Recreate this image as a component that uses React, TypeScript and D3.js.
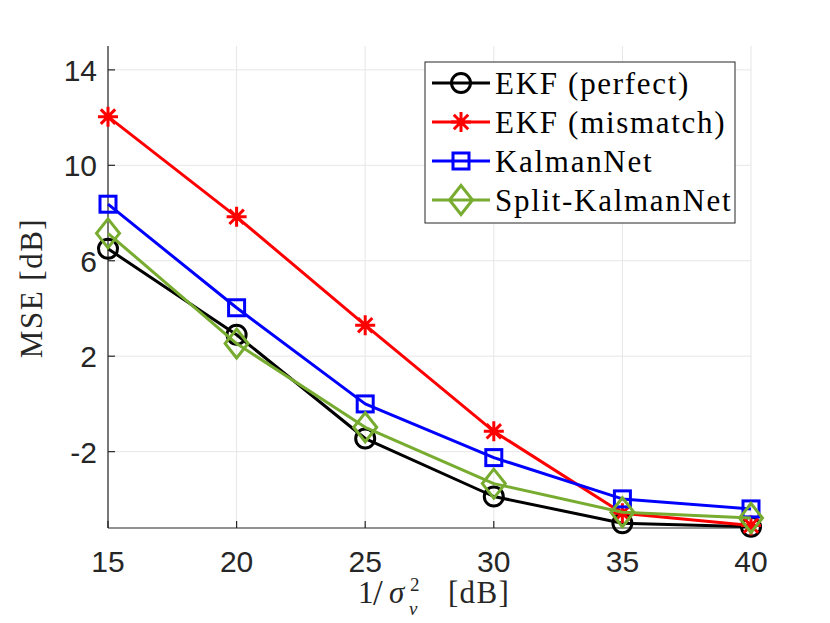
import React, { useEffect, useRef } from 'react';
import * as d3 from 'd3';

// x values: 1/sigma_v^2 [dB]
const snr = [15, 20, 25, 30, 35, 40];
const ekfPerfect = [6.5, 2.9, -1.45, -3.88, -5.0, -5.15];
const ekfMismatch = [12.04, 7.84, 3.3, -1.15, -4.58, -5.1];
const kalmanNet = [8.37, 4.03, 0.0, -2.25, -3.98, -4.4];
const splitKalmanNet = [7.15, 2.53, -0.98, -3.34, -4.54, -4.78];
const xTicks = [15, 20, 25, 30, 35, 40];
const yTicks = [-2, 2, 6, 10, 14];

type Series = { name: string; values: number[]; color: string; marker: string };

const series: Series[] = [
  { name: 'EKF (perfect)', values: ekfPerfect, color: '#000000', marker: 'circle' },
  { name: 'EKF (mismatch)', values: ekfMismatch, color: '#ff0000', marker: 'star' },
  { name: 'KalmanNet', values: kalmanNet, color: '#0000ff', marker: 'square' },
  { name: 'Split-KalmanNet', values: splitKalmanNet, color: '#77ac30', marker: 'diamond' },
];

const W = 830;
const H = 623;

const drawMarker = (g: d3.Selection<SVGGElement, unknown, null, undefined>, type: string, cx: number, cy: number, color: string) => {
  const sw = 3;
  if (type === 'circle') {
    g.append('circle').attr('cx', cx).attr('cy', cy).attr('r', 9.5)
      .attr('fill', 'none').attr('stroke', color).attr('stroke-width', sw);
  } else if (type === 'square') {
    g.append('rect').attr('x', cx - 8).attr('y', cy - 8).attr('width', 16).attr('height', 16)
      .attr('fill', 'none').attr('stroke', color).attr('stroke-width', sw);
  } else if (type === 'diamond') {
    const w = 11.5, h = 14.5;
    g.append('path').attr('d', `M${cx},${cy - h}L${cx + w},${cy}L${cx},${cy + h}L${cx - w},${cy}Z`)
      .attr('fill', 'none').attr('stroke', color).attr('stroke-width', sw).attr('stroke-linejoin', 'miter');
  } else if (type === 'star') {
    const r = 10, d = r * 0.72;
    g.append('path')
      .attr('d', `M${cx},${cy - r}V${cy + r}M${cx - r},${cy}H${cx + r}M${cx - d},${cy - d}L${cx + d},${cy + d}M${cx - d},${cy + d}L${cx + d},${cy - d}`)
      .attr('stroke', color).attr('stroke-width', sw);
  }
};

const App: React.FC = () => {
  const svgRef = useRef<SVGSVGElement | null>(null);

  useEffect(() => {
    if (!svgRef.current) return;
    const svg = d3.select(svgRef.current);
    svg.selectAll('*').remove();

    const left = 108, right = 751, top = 46, bottom = 528;
    const x = d3.scaleLinear().domain([15, 40]).range([left, right]);
    const y = d3.scaleLinear().domain([-5.2, 15]).range([bottom, top]);

    const axisColor = '#262626';
    const gridColor = '#e6e6e6';
    const sans = "'Liberation Sans', Arial, Helvetica, sans-serif";
    const serif = "'Liberation Serif', 'Times New Roman', serif";

    // grid
    const grid = svg.append('g');
    xTicks.forEach(t => {
      grid.append('line').attr('x1', x(t)).attr('x2', x(t)).attr('y1', top).attr('y2', bottom)
        .attr('stroke', gridColor).attr('stroke-width', 1);
    });
    yTicks.forEach(t => {
      grid.append('line').attr('x1', left).attr('x2', right).attr('y1', y(t)).attr('y2', y(t))
        .attr('stroke', gridColor).attr('stroke-width', 1);
    });

    // axes lines
    svg.append('line').attr('x1', left).attr('x2', left).attr('y1', top).attr('y2', bottom)
      .attr('stroke', axisColor).attr('stroke-width', 1.2);
    svg.append('line').attr('x1', left).attr('x2', right).attr('y1', bottom).attr('y2', bottom)
      .attr('stroke', axisColor).attr('stroke-width', 1.2);

    // ticks + labels
    xTicks.forEach(t => {
      svg.append('line').attr('x1', x(t)).attr('x2', x(t)).attr('y1', bottom).attr('y2', bottom - 7)
        .attr('stroke', axisColor).attr('stroke-width', 1.2);
      svg.append('text').attr('x', x(t)).attr('y', bottom + 44).attr('text-anchor', 'middle')
        .attr('font-family', sans).attr('font-size', 30).attr('fill', axisColor).text(t);
    });
    yTicks.forEach(t => {
      svg.append('line').attr('x1', left).attr('x2', left + 7).attr('y1', y(t)).attr('y2', y(t))
        .attr('stroke', axisColor).attr('stroke-width', 1.2);
      svg.append('text').attr('x', left - 11).attr('y', y(t) + 11).attr('text-anchor', 'end')
        .attr('font-family', sans).attr('font-size', 30).attr('fill', axisColor).text(t);
    });

    // series
    series.forEach(s => {
      const pts: [number, number][] = snr.map((v, i) => [x(v), y(s.values[i])]);
      svg.append('path').attr('d', d3.line()(pts)!).attr('fill', 'none')
        .attr('stroke', s.color).attr('stroke-width', 3).attr('stroke-linejoin', 'round');
      const mg = svg.append('g');
      pts.forEach(([px, py]) => drawMarker(mg, s.marker, px, py, s.color));
    });

    // legend
    const lg = svg.append('g');
    lg.append('rect').attr('x', 425).attr('y', 62).attr('width', 310).attr('height', 161)
      .attr('fill', '#ffffff').attr('stroke', axisColor).attr('stroke-width', 1);
    series.forEach((s, i) => {
      const cy = 83 + i * 39;
      lg.append('line').attr('x1', 432).attr('x2', 490).attr('y1', cy).attr('y2', cy)
        .attr('stroke', s.color).attr('stroke-width', 3);
      drawMarker(lg, s.marker, 461, cy, s.color);
      lg.append('text').attr('x', 495).attr('y', cy + 10.5)
        .attr('font-family', serif).attr('font-size', 31).attr('letter-spacing', 1.7)
        .attr('fill', '#000').text(s.name);
    });

    // y label
    svg.append('text')
      .attr('transform', `translate(42, 288) rotate(-90)`)
      .attr('text-anchor', 'middle')
      .attr('font-family', serif).attr('font-size', 31).attr('letter-spacing', 1.5)
      .attr('fill', axisColor).text('MSE [dB]');

    // x label: 1/σ_v^2 [dB]
    const xl = svg.append('g').attr('font-family', serif).attr('fill', axisColor);
    xl.append('text').attr('x', 358).attr('y', 603).attr('font-size', 31).text('1');
    xl.append('text').attr('x', 373).attr('y', 605).attr('font-size', 35).text('/');
    xl.append('text').attr('x', 389).attr('y', 603).attr('font-size', 31).attr('font-style', 'italic').text('σ');
    xl.append('text').attr('x', 410).attr('y', 591).attr('font-size', 19).text('2');
    xl.append('text').attr('x', 409).attr('y', 615).attr('font-size', 19).attr('font-style', 'italic').text('v');
    xl.append('text').attr('x', 448).attr('y', 603).attr('font-size', 31).attr('letter-spacing', 1.3).text('[dB]');
  }, []);

  return (
    <div style={{ position: 'absolute', left: 0, top: 0, width: W, height: H, background: '#fff' }}>
      <svg ref={svgRef} width={W} height={H} style={{ display: 'block' }} />
    </div>
  );
};

export default App;
